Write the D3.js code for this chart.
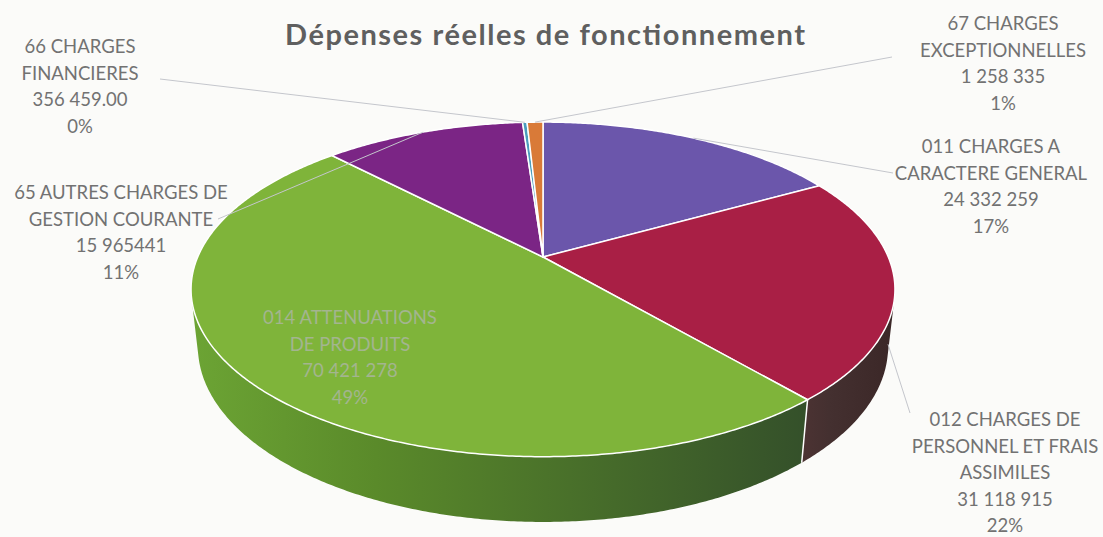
<!DOCTYPE html>
<html>
<head>
<meta charset="utf-8">
<script src="https://cdn.jsdelivr.net/npm/d3@7"></script>
<style>
  html, body { margin: 0; padding: 0; background: #fbfbf9; }
  svg { display: block; }
  text { font-family: Lato, "Open Sans", sans-serif; }
</style>
</head>
<body>
<svg id="chart" width="1103" height="537"></svg>
<script>
// data, in the order Excel draws the slices (clockwise from 12 o'clock)
const codes = ['011', '012', '014', '65', '66', '67']
const labelLines = [
  ['011 CHARGES A', 'CARACTERE GENERAL'],
  ['012 CHARGES DE', 'PERSONNEL ET FRAIS', 'ASSIMILES'],
  ['014 ATTENUATIONS', 'DE PRODUITS'],
  ['65 AUTRES CHARGES DE', 'GESTION COURANTE'],
  ['66 CHARGES', 'FINANCIERES'],
  ['67 CHARGES', 'EXCEPTIONNELLES']
]
const values = [24332259, 31118915, 70421278, 15965441, 356459, 1258335]
const valueLabels = ['24 332 259', '31 118 915', '70 421 278', '15 965441', '356 459.00', '1 258 335']
const title = 'Dépenses réelles de fonctionnement'

// styles
const topColors = ['#6b56ab', '#a91f45', '#7fb43a', '#7b2585', '#4a9dbd', '#d97a38']
// wall colours: left end, middle, right end
const wallColors = [
  ['#4a3434', '#443030', '#3e2a2a'],
  ['#4c3333', '#443030', '#3b2727'],
  ['#6ca434', '#5a8a2a', '#34502a'],
  ['#5a1e62', '#521b59', '#4a1850'],
  ['#2f6a80', '#2a6073', '#245566'],
  ['#9a5426', '#8c4c23', '#7e4420']
]

// label layout: centre x, first baseline, where the leader starts, rim level of its end
const labelLayout = [
  { x: 991, y: 153, line: [893, 173], level: 'top' },
  { x: 1005, y: 426, line: [910, 413], level: 'bottom' },
  { x: 350, y: 324, line: null, inside: true },
  { x: 121, y: 199, line: [218, 219], level: 'top' },
  { x: 80, y: 53, line: [160, 79], level: 'top' },
  { x: 1003, y: 30, line: [892, 57], level: 'top' }
]

const svg = d3.select('#chart')
const defs = svg.append('defs')

// perspective view of a unit disc
const CX = 543, CY = 257, K = 1578, DIST = 4.57, PHI = 27.8 * Math.PI / 180, THICK = 0.189
const cp = Math.cos(PHI), sp = Math.sin(PHI)

function proj (theta, y) {
  const x = Math.sin(theta)
  const z = -Math.cos(theta)
  const depth = -y * sp + DIST - z * cp
  return [CX + K * x / depth, CY - K * (y * cp - z * sp) / depth]
}

function rim (a0, a1, y) {
  const n = Math.max(2, Math.ceil(Math.abs(a1 - a0) / (Math.PI / 360)))
  return d3.range(n + 1).map(i => proj(a0 + (a1 - a0) * i / n, y))
}

const pie = d3.pie().sort(null).value(d => d).startAngle(0).endAngle(2 * Math.PI)
const arcs = pie(values)
const total = d3.sum(values)
const pct = d3.format('.0%')

// part of the outer wall that faces the camera
const visA = Math.acos(-1 / (DIST * cp))
const visB = 2 * Math.PI - visA

const line = d3.line()
const gWall = svg.append('g')
arcs.forEach((a, i) => {
  const t0 = Math.max(a.startAngle, visA)
  const t1 = Math.min(a.endAngle, visB)
  if (t1 <= t0) return
  const top = rim(t0, t1, 0)
  const bot = rim(t1, t0, -THICK)
  const pts = top.concat(bot)
  const xs = d3.extent(pts, p => p[0])
  const grad = defs.append('linearGradient')
    .attr('id', 'wall' + i)
    .attr('gradientUnits', 'userSpaceOnUse')
    .attr('x1', xs[0]).attr('x2', xs[1])
    .attr('y1', 0).attr('y2', 0)
  grad.selectAll('stop')
    .data(wallColors[i])
    .join('stop')
    .attr('offset', (d, k) => k === 1 ? 0.3 : k / 2)
    .attr('stop-color', d => d)
  gWall.append('path')
    .attr('d', line(pts) + 'Z')
    .attr('fill', 'url(#wall' + i + ')')
  // seam between two walls
  if (a.startAngle > visA && a.startAngle < visB) {
    gWall.append('path')
      .attr('d', line([proj(a.startAngle, 0), proj(a.startAngle, -THICK)]))
      .attr('stroke', '#ffffff')
      .attr('stroke-width', 1.5)
  }
})

// top faces
svg.append('g').selectAll('path')
  .data(arcs)
  .join('path')
  .attr('d', a => line([[CX, CY]].concat(rim(a.startAngle, a.endAngle, 0))) + 'Z')
  .attr('fill', (a, i) => topColors[i])
  .attr('stroke', '#ffffff')
  .attr('stroke-width', 1.5)
  .attr('stroke-linejoin', 'round')

// leader lines
svg.append('g').selectAll('line')
  .data(arcs.filter((a, i) => labelLayout[i].line))
  .join('line')
  .each(function (a) {
    const L = labelLayout[a.index]
    const mid = (a.startAngle + a.endAngle) / 2
    const end = proj(mid, L.level === 'bottom' ? -THICK : 0)
    d3.select(this)
      .attr('x1', L.line[0]).attr('y1', L.line[1])
      .attr('x2', end[0]).attr('y2', end[1])
  })
  .attr('stroke', '#c4c6cc')
  .attr('stroke-width', 1)

// data labels
const lineH = 26.6
arcs.forEach((a, i) => {
  const L = labelLayout[i]
  const lines = labelLines[i].concat([valueLabels[i], pct(values[i] / total)])
  svg.append('text')
    .attr('text-anchor', 'middle')
    .attr('font-size', 18.5)
    .attr('fill', L.inside ? '#a3b58f' : '#727272')
    .selectAll('tspan')
    .data(lines)
    .join('tspan')
    .attr('x', L.x)
    .attr('y', (d, k) => L.y + k * lineH)
    .text(d => d)
})

// title
svg.append('text')
  .attr('x', 545)
  .attr('y', 45)
  .attr('text-anchor', 'middle')
  .attr('font-size', 29)
  .attr('font-weight', 'bold')
  .attr('textLength', 520)
  .attr('lengthAdjust', 'spacing')
  .attr('fill', '#5f5f5f')
  .text(title)
</script>
</body>
</html>
